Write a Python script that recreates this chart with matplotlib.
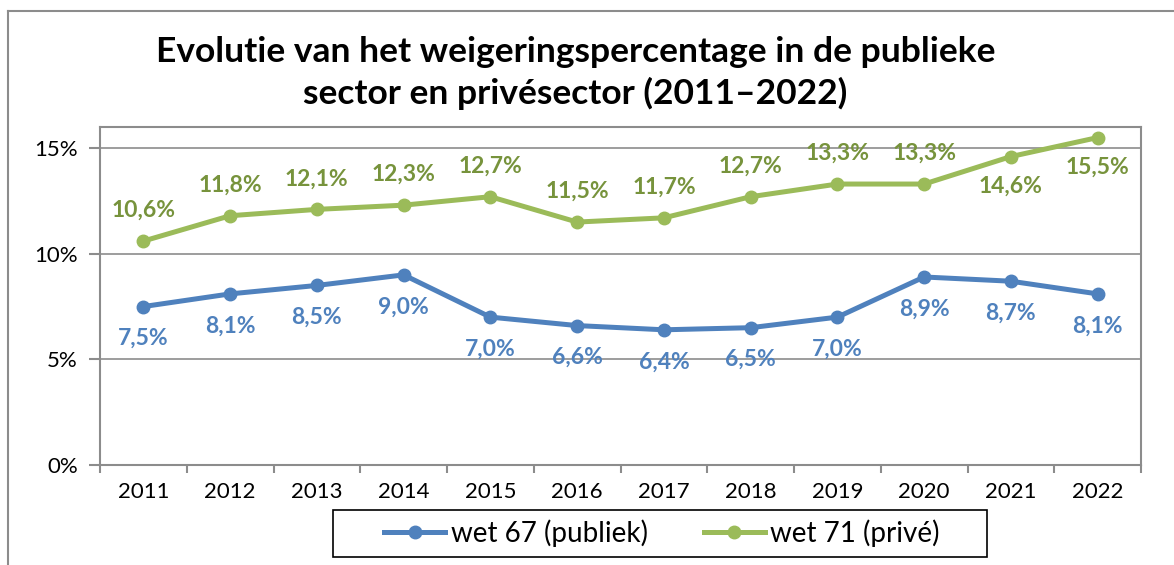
import matplotlib
matplotlib.use('Agg')
import matplotlib.pyplot as plt
from matplotlib.lines import Line2D
from matplotlib.patches import Rectangle

years = ["2011", "2012", "2013", "2014", "2015", "2016", "2017", "2018", "2019", "2020", "2021", "2022"]
publiek = [7.5, 8.1, 8.5, 9.0, 7.0, 6.6, 6.4, 6.5, 7.0, 8.9, 8.7, 8.1]
prive = [10.6, 11.8, 12.1, 12.3, 12.7, 11.5, 11.7, 12.7, 13.3, 13.3, 14.6, 15.5]

plt.rcParams['font.family'] = ['Lato', 'DejaVu Sans']

BLUE, GREEN = '#4F81BD', '#9BBB59'
BLUE_TXT, GREEN_TXT = '#4F81BD', '#77933C'
GRAY = '#8C8C8C'
W, H = 1174, 565

fig = plt.figure(figsize=(11.74, 5.65), dpi=100)
ax = fig.add_axes([100 / W, 1 - 465 / H, 1041 / W, 338 / H])

x = list(range(len(years)))
ax.plot(x, publiek, color=BLUE, lw=3.6, marker='o', ms=9, label='wet 67 (publiek)')
ax.plot(x, prive, color=GREEN, lw=3.6, marker='o', ms=9, label='wet 71 (privé)')

def fmt(v):
    return f"{v:.1f}%".replace('.', ',')

for i, v in enumerate(publiek):
    ax.annotate(fmt(v), (i, v), xytext=(0, -23), textcoords='offset points',
                ha='center', va='center', fontsize=16.5, fontweight='bold', color=BLUE_TXT)
for i, v in enumerate(prive):
    dy = -21 if i >= 10 else 22
    ax.annotate(fmt(v), (i, v), xytext=(0, dy), textcoords='offset points',
                ha='center', va='center', fontsize=16.5, fontweight='bold', color=GREEN_TXT)

ax.set_xlim(-0.5, len(years) - 0.5)
ax.set_ylim(0, 16)
ax.set_yticks([0, 5, 10, 15])
ax.set_yticklabels(['0%', '5%', '10%', '15%'])
ax.set_xticks(x)
ax.set_xticklabels(years)
ax.set_xticks([i - 0.5 for i in range(len(years) + 1)], minor=True)
ax.tick_params(axis='x', which='major', length=0, pad=12, labelsize=16)
ax.tick_params(axis='x', which='minor', length=6, width=1.5, color=GRAY, direction='out')
ax.tick_params(axis='y', length=8, width=1.5, color=GRAY, labelsize=16, pad=8)
for y in [5, 10, 15]:
    ax.axhline(y, color=GRAY, lw=1.2, zorder=0)
for s in ax.spines.values():
    s.set_color(GRAY)
    s.set_linewidth(1.5)

fig.text(0.49, 1 - 73 / H, 'Evolutie van het weigeringspercentage in de publieke\nsector en privésector (2011\u20132022)',
         ha='center', va='center', fontsize=25.5, fontweight='bold', linespacing=1.3)

# legend box drawn separately so it can be wider than the entries
fig.add_artist(Rectangle((333 / W, 1 - 557 / H), 654 / W, 47 / H, transform=fig.transFigure,
                         fill=False, edgecolor='black', lw=1.2))
ax.legend(loc='center', bbox_to_anchor=(662 / W, 1 - 533 / H), bbox_transform=fig.transFigure,
          ncol=2, fontsize=20, frameon=False, handlelength=2.2, handletextpad=0.2,
          columnspacing=2.0, borderpad=0, borderaxespad=0)

# outer chart frame
fig.add_artist(Line2D([8 / W, 1.0], [1 - 11 / H, 1 - 11 / H], color=GRAY, lw=1.5, transform=fig.transFigure))
fig.add_artist(Line2D([8 / W, 8 / W], [0, 1 - 11 / H], color=GRAY, lw=1.5, transform=fig.transFigure))

fig.savefig('out.png', dpi=100)
